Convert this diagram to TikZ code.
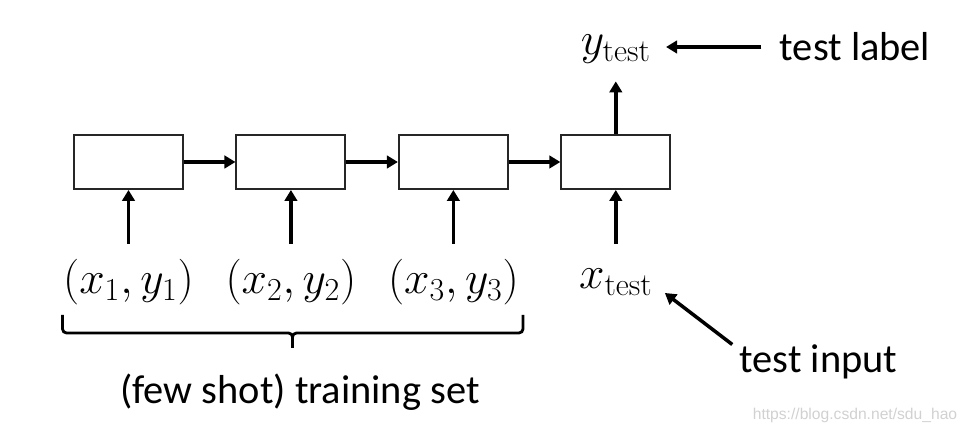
\RequirePackage{fix-cm}
\documentclass[tikz,border=0pt]{standalone}
\usepackage{amsmath}
\usepackage{fontspec}
\usepackage{tikz}
\usetikzlibrary{arrows.meta,positioning}
\newfontfamily\notefont{Carlito}
\newfontfamily\markfont{Liberation Sans}

\begin{document}
\begin{tikzpicture}[
    node distance=1.03cm,
    cell/.style={rectangle, minimum width=2.18cm, minimum height=1.08cm, draw=black!85, line width=1.1pt, inner sep=0pt},
    lbl/.style={font=\fontsize{26}{31}\selectfont, text height=0.69cm, text depth=0.23cm, inner sep=0.3cm},
    note/.style={font=\notefont\fontsize{23}{28}\selectfont, inner sep=0pt},
    arrow/.style={line width=2pt, -{Triangle[length=0.22cm,width=0.25cm]}},
    setbrace/.style={line width=1.6pt, rounded corners=0.08cm}
]
\useasboundingbox (0,0) rectangle (19.36,8.64);

% Recurrent cells
\node[cell] (cell1) at (2.57,5.4) {};
\node[cell, right=of cell1] (cell2) {};
\node[cell, right=of cell2] (cell3) {};
\node[cell, right=of cell3] (cell4) {};

% Inputs and output
\node[lbl] (in1) at ([yshift=-1.84cm]cell1.south) {$(x_1,y_1)$};
\node[lbl] (in2) at ([yshift=-1.84cm]cell2.south) {$(x_2,y_2)$};
\node[lbl] (in3) at ([yshift=-1.84cm]cell3.south) {$(x_3,y_3)$};
\node[lbl, inner sep=0.2cm] (xtest) at ([yshift=-1.74cm]cell4.south) {$x_{\mathrm{test}}$};
\node[lbl] (ytest) at ([yshift=1.82cm]cell4.north) {$y_{\mathrm{test}}$};

% Notes
\node[note] (tlabel) at (17.1,7.70) {test label};
\node[note] (tinput) at (16.37,1.40) {test input};
\node[note] (tset) at (6.0,0.80) {(few shot) training set};
\node[font=\markfont\fontsize{8.9}{10}\selectfont, text=black!18, inner sep=0pt] (mark) at (17.1,0.34) {https://blog.csdn.net/sdu\_hao};

% Connections
\draw[arrow] (cell1) -- (cell2);
\draw[arrow] (cell2) -- (cell3);
\draw[arrow] (cell3) -- (cell4);
\draw[arrow] (in1) -- (cell1);
\draw[arrow] (in2) -- (cell2);
\draw[arrow] (in3) -- (cell3);
\draw[arrow] (xtest) -- (cell4);
\draw[arrow] (cell4) -- (ytest);
\draw[arrow, shorten <=0.36cm] (tlabel.west) -- (tlabel.west -| ytest.east);
\draw[arrow] ([xshift=-0.14cm]tinput.north west) -- ([xshift=0.04cm,yshift=-0.32cm]xtest.east);

% Training set brace
\coordinate (braceL) at (1.25,2.34);
\coordinate (braceR) at (10.46,2.34);
\coordinate (braceM) at (5.85,1.98);
\coordinate (braceT) at (5.85,1.68);
\draw[setbrace] (braceL) |- (braceM) -- (braceT);
\draw[setbrace] (braceR) |- (braceM) -- (braceT);

\end{tikzpicture}
\end{document}
